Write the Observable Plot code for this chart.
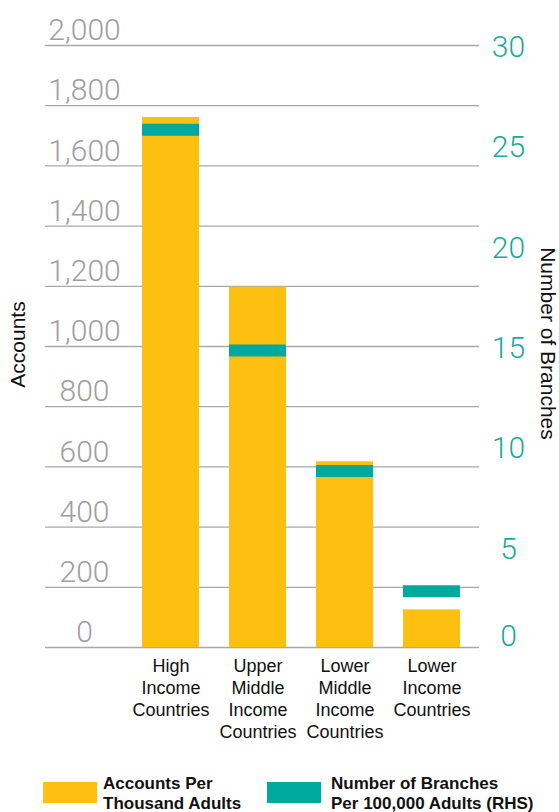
<!DOCTYPE html>
<html>
<head>
<meta charset="utf-8">
<script src="https://cdn.jsdelivr.net/npm/d3@7"></script>
<script src="https://cdn.jsdelivr.net/npm/@observablehq/plot@0.6"></script>
<style>
  html, body { margin: 0; padding: 0; background: #fff; }
  #wrap { position: relative; width: 559px; height: 812px; overflow: hidden; font-family: "Liberation Sans", Arial, sans-serif; }
  #chart svg { display: block; }
  .swatch { position: absolute; width: 54px; height: 21px; }
  .legend-text { position: absolute; font-weight: bold; font-size: 17px; line-height: 20px; color: #111; white-space: nowrap; }
</style>
</head>
<body>
<div id="wrap">
  <div id="chart"></div>
  <div class="swatch" style="left:43px;top:782px;background:#FDC010"></div>
  <div class="legend-text" style="left:103px;top:774px">Accounts Per<br>Thousand Adults</div>
  <div class="swatch" style="left:267px;top:782px;background:#00A99D"></div>
  <div class="legend-text" style="left:331px;top:774px">Number of Branches<br>Per 100,000 Adults (RHS)</div>
</div>
<script>
// ---- data ----
const categories = [
  "High\nIncome\nCountries",
  "Upper\nMiddle\nIncome\nCountries",
  "Lower\nMiddle\nIncome\nCountries",
  "Lower\nIncome\nCountries"
];
const accounts = [1761, 1197, 617, 125];        // accounts per thousand adults (LHS)
const branches = [25.8, 14.8, 8.8, 2.8];        // branches per 100,000 adults (RHS)
const leftTicks = [0, 200, 400, 600, 800, 1000, 1200, 1400, 1600, 1800, 2000];
const rightTicks = [0, 5, 10, 15, 20, 25, 30];
const leftMax = 2000, rightMax = 30;

const ratio = leftMax / rightMax;
const rows = categories.map((c, i) => ({cat: c, accounts: accounts[i], branches: branches[i]}));

const yellow = "#FDC010", teal = "#00A99D";
const numFont = "Roboto, 'Liberation Sans', sans-serif";

const chart = Plot.plot({
  width: 559,
  height: 770,
  marginTop: 45,
  marginBottom: 123,
  marginLeft: 45,
  marginRight: 80,
  style: {fontFamily: "'Liberation Sans', Arial, sans-serif", background: "#fff", overflow: "visible"},
  x: {type: "band", domain: categories, range: [141, 460], paddingInner: 0.35, paddingOuter: 0, label: null},
  y: {domain: [0, leftMax], label: null},
  marks: [
    Plot.ruleY(leftTicks, {stroke: "#a9a9a9", strokeWidth: 1.3}),
    Plot.barY(rows, {x: "cat", y: "accounts", fill: yellow}),
    Plot.tickY(rows, {x: "cat", y: d => d.branches * ratio, stroke: teal, strokeWidth: 12}),
    // left axis (accounts)
    Plot.axisY({anchor: "left", ticks: leftTicks, tickSize: 0, tickPadding: 0,
      tickFormat: d3.format(","), textAnchor: "middle", dx: 39, dy: -15,
      fontSize: 30, fontWeight: 300, fontFamily: numFont, color: "#9e9e9e", label: null}),
    // right axis (branches)
    Plot.axisY({anchor: "right", ticks: rightTicks.filter(v => v > 0).map(v => v * ratio), tickSize: 0, tickPadding: 0,
      tickFormat: d => String(Math.round(d / ratio)), textAnchor: "middle", dx: 29, dy: 2,
      fontSize: 30, fontWeight: 300, fontFamily: numFont, color: "#1aa99c", label: null}),
    Plot.axisY({anchor: "right", ticks: rightTicks.filter(v => v === 0).map(v => v * ratio), tickSize: 0, tickPadding: 0,
      tickFormat: d => String(Math.round(d / ratio)), textAnchor: "middle", dx: 29, dy: -11,
      fontSize: 30, fontWeight: 300, fontFamily: numFont, color: "#1aa99c", label: null}),
    // x axis
    Plot.axisX({tickSize: 0, tickPadding: 9, fontSize: 18, lineHeight: 1.22, color: "#111", label: null}),
    // axis titles
    Plot.text(["Accounts"], {frameAnchor: "left", textAnchor: "middle", dx: -27, dy: -2, rotate: -90, fontSize: 21, fill: "#111"}),
    Plot.text(["Number of Branches"], {frameAnchor: "right", textAnchor: "middle", dx: 68, dy: -3, rotate: 90, fontSize: 21, fill: "#111"})
  ]
});
document.getElementById("chart").appendChild(chart);
</script>
</body>
</html>
